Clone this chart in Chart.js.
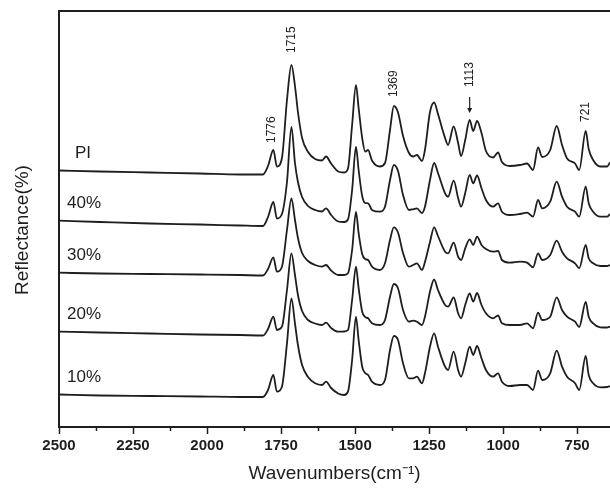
<!DOCTYPE html>
<html><head><meta charset="utf-8">
<script src="https://cdn.jsdelivr.net/npm/chart.js@4.4.1/dist/chart.umd.min.js"></script>
<style>html,body{margin:0;padding:0;background:#fff;}canvas{display:block;}</style>
</head><body>
<canvas id="c" width="610" height="491"></canvas>
<script>
// ---- data (wavenumber in cm-1, reflectance in arbitrary stacked units) ----
const wavenumbers = [2500,2362,2193,2024,1889,1811,1794,1776,1764,1747,
 1730,1715,1703,1693,1679,1659,1635,1612,1598,1581,
 1557,1537,1524,1510,1497,1488,1476,1466,1456,1443,
 1416,1399,1382,1369,1355,1338,1318,1304,1291,1274,
 1264,1247,1233,1220,1196,1186,1167,1152,1142,1128,
 1113,1101,1088,1073,1058,1034,1017,1004,977,943,
 919,899,882,868,841,819,801,784,757,743,
 721,711,696,672,649,639];

const seriesNames = ['PI','40%','30%','20%','10%'];

const reflPI = [256.5,255.5,254.5,253.5,252.5,252.5,261,277,260.5,269,
 327,362,341,315,289,275,268,266.5,270.5,263.5,
 255.5,254.5,258.5,302,342,319,289,275.5,277,266.5,
 260.5,264,297,321,314.5,291,274,270.5,272,266,
 277,315,324.5,313,289,282,300.5,284,271,287,
 307,296,306,294,276,269.5,274.5,265,261,262,
 263.5,257,279.5,270,277,301,282,268.5,263.5,257,
 296,278,267,260.5,260.5,264.5];

const refl40 = [206.3,205,203.5,202.5,201.5,201,210,225,208.5,213,
 245,300,264,245,230,221,217,215.5,218.7,212,
 205.5,205,207.5,237,280.3,257,231,224,223.7,217,
 215.3,220.3,247,262,256,232,217,217.7,218.7,214,
 220.3,247,264,254,233.7,230.3,246.3,229,220.3,234,
 252,243.7,251.5,238.7,227,220.3,223.7,215.3,212,213,
 214.3,210.3,227,218.7,225.3,245.3,230.3,220.3,215.3,210.3,
 240.3,223.7,215.3,210.3,210.3,213];

const refl30 = [154.3,153.5,153,152.5,152,151.5,158,169.7,155.3,160.3,
 197,228.7,207,189,174,166,162,160.3,162,156.5,
 152,152,153.7,177,215,194,173,168,167,160.3,
 157,163.7,187,199.7,194.5,174,160.3,162,163.7,157,
 165,185,199.7,191,175.3,173.7,184.3,170.3,167,178.7,
 187.7,182,190.3,182,178,175.3,176,167,164.3,165.3,
 164.3,159.7,173.7,167,172,186.3,175.3,168.7,163.7,158.7,
 182,168.7,163.7,161,161,162];

const refl20 = [95.3,94.5,93.5,92.5,92,91.5,98,110.3,97,100.3,
 137,173.7,152,132,116,107,103.5,102,104.3,99,
 95.3,95.5,97,127,160.3,139,115.3,110,108.7,103.7,
 102,107,130.3,143,138.7,117,105.3,106.3,105.3,102,
 110.3,135.3,147.5,137,122,120.3,129.5,113.7,108.7,122,
 133.5,125.3,134,122,113.7,108.7,111.5,103.7,102,102,
 103.7,98.7,114.3,107,110.3,129.7,117,110.3,105.3,100,
 125,110.3,103.7,99.7,99.5,100.5];

const refl10 = [32.5,31.5,31,30.5,30,30,37,52,35.3,40.3,
 83.7,128.7,103.7,82,62,50,43.7,42,45.3,39,
 33.5,32,35.3,67,110.3,87,60.3,54,52,45.3,
 42,47,77,91,87,63.7,48.7,48.7,50.3,43.7,
 53.7,80.3,93.7,80.3,60.3,57,75.3,57,50.3,63.7,
 80.3,72,81,68.7,57,50.3,53.7,45.3,41,42,
 42,37,56.3,47,53.7,76.3,60.3,50.3,43.7,37,
 71,52,43.7,39.7,40,41];

const majorTicks = [750,1000,1250,1500,1750,2000,2250,2500];
const minorTicks = [875,1125,1375,1625,1875,2125,2375];
const peakLabels = ['1776','1715','1369','1113','721'];

// ---- styling / layout ----
const INK = '#1e1e1e';
const FONT = "'Liberation Sans', Arial, Helvetica, sans-serif";
const seriesLabelPos = [{wn:2446},{wn:2473},{wn:2473},{wn:2473},{wn:2473}];
const peakStyle = {'1776':{gap:7,dx:-2},'1715':{gap:12,dx:0},'1369':{gap:9,dx:0},'1113':{gap:33,dx:0,arrow:true},'721':{gap:9,dx:0}};

const allSeries = [reflPI, refl40, refl30, refl20, refl10];
const datasets = allSeries.map((arr, i) => ({
  label: seriesNames[i],
  data: wavenumbers.map((w, k) => ({x: w, y: arr[k]})),
  borderColor: INK,
  borderWidth: 1.8,
  pointRadius: 0,
  fill: false,
  cubicInterpolationMode: 'monotone'
}));

const decor = {
  id: 'decor',
  afterDraw(chart) {
    const {ctx, chartArea: a, scales: {x, y}} = chart;
    ctx.save();
    ctx.strokeStyle = INK;
    ctx.fillStyle = INK;
    // top frame line
    ctx.lineWidth = 2;
    ctx.beginPath(); ctx.moveTo(a.left - 1, a.top); ctx.lineTo(a.right, a.top); ctx.stroke();
    // minor ticks
    ctx.lineWidth = 1.5;
    minorTicks.forEach(v => {
      const px = Math.round(x.getPixelForValue(v)) + 0.5;
      ctx.beginPath(); ctx.moveTo(px, a.bottom); ctx.lineTo(px, a.bottom + 4); ctx.stroke();
    });
    // series labels
    ctx.font = `17px ${FONT}`;
    ctx.textAlign = 'left';
    ctx.textBaseline = 'middle';
    chart.data.datasets.forEach((ds, i) => {
      const py = y.getPixelForValue(ds.data[0].y) - 17;
      ctx.fillText(ds.label, x.getPixelForValue(seriesLabelPos[i].wn), py);
    });
    // peak annotations on top spectrum
    const top = chart.data.datasets[0].data;
    ctx.font = `12px ${FONT}`;
    peakLabels.forEach(t => {
      const wn = Number(t);
      const idx = wavenumbers.indexOf(wn);
      const st = peakStyle[t];
      const px = x.getPixelForValue(wn) + st.dx;
      const peakY = y.getPixelForValue(top[idx].y);
      ctx.save();
      ctx.translate(px, peakY - st.gap);
      ctx.rotate(-Math.PI / 2);
      ctx.textAlign = 'left';
      ctx.textBaseline = 'middle';
      ctx.fillText(t, 0, 0);
      ctx.restore();
      if (st.arrow) {
        const y1 = peakY - 23, y2 = peakY - 7;
        ctx.lineWidth = 1.2;
        ctx.beginPath(); ctx.moveTo(px, y1); ctx.lineTo(px, y2 - 3); ctx.stroke();
        ctx.beginPath(); ctx.moveTo(px - 2.5, y2 - 5); ctx.lineTo(px + 2.5, y2 - 5); ctx.lineTo(px, y2); ctx.closePath(); ctx.fill();
      }
    });
    // y axis title
    ctx.font = `19px ${FONT}`;
    ctx.textAlign = 'center';
    ctx.textBaseline = 'middle';
    ctx.save();
    ctx.translate(23, (a.top + a.bottom) / 2 + 11);
    ctx.rotate(-Math.PI / 2);
    ctx.fillText('Reflectance(%)', 0, 0);
    ctx.restore();
    ctx.restore();
  }
};

new Chart(document.getElementById('c'), {
  type: 'line',
  data: {datasets},
  plugins: [decor],
  options: {
    responsive: false,
    animation: false,
    devicePixelRatio: 1,
    events: [],
    layout: {padding: {top: 11, right: 0, left: 0, bottom: 0}},
    plugins: {legend: {display: false}, tooltip: {enabled: false}},
    scales: {
      x: {
        type: 'linear',
        reverse: true,
        min: 639,
        max: 2500,
        afterBuildTicks: s => { s.ticks = majorTicks.map(v => ({value: v})); },
        afterFit: s => { s.height = 64; },
        border: {display: true, color: INK, width: 2},
        grid: {display: true, drawOnChartArea: false, drawTicks: true, tickLength: 7, tickWidth: 1.5, tickColor: INK},
        ticks: {
          color: INK, padding: 3, maxRotation: 0, autoSkip: false,
          font: {family: FONT, size: 15, weight: 'bold'},
          callback: v => String(v)
        },
        title: {display: true, text: 'Wavenumbers(cm\u207B\u00B9)', color: INK,
          font: {family: FONT, size: 19, weight: 'normal'}, padding: {top: 0, bottom: 6}}
      },
      y: {
        type: 'linear',
        min: 0,
        max: 416,
        afterFit: s => { s.width = 59; },
        border: {display: true, color: INK, width: 2},
        grid: {display: false, drawOnChartArea: false, drawTicks: false},
        ticks: {display: false}
      }
    }
  }
});
</script>
</body></html>
